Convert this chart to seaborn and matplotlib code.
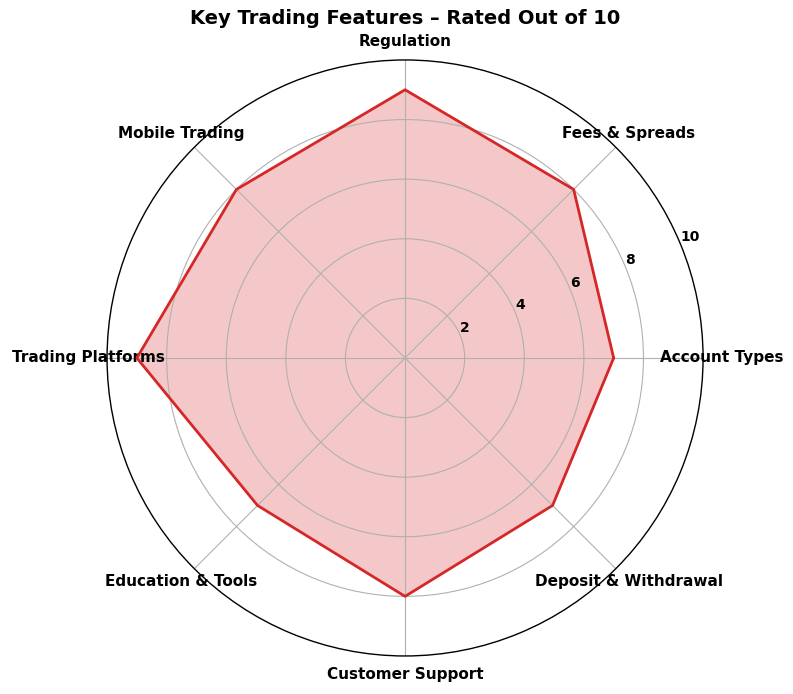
import numpy as np
import pandas as pd
import matplotlib
matplotlib.use("Agg")
import matplotlib.pyplot as plt
import seaborn as sns

categories = ["Account Types", "Fees & Spreads", "Regulation", "Mobile Trading",
              "Trading Platforms", "Education & Tools", "Customer Support",
              "Deposit & Withdrawal"]
scores = [7, 8, 9, 8, 9, 7, 8, 7]
r_ticks = [2, 4, 6, 8, 10]
r_tick_labels = ["2", "4", "6", "8", "10"]

sns.set_style("white")
plt.rcParams['font.family'] = ['DejaVu Sans']
plt.rcParams['text.color'] = 'black'
plt.rcParams['xtick.color'] = 'black'
plt.rcParams['ytick.color'] = 'black'

n = len(categories)
angles = np.linspace(0, 2 * np.pi, n, endpoint=False)
df = pd.DataFrame({
    "angle": np.append(angles, 2 * np.pi),
    "score": scores + [scores[0]],
})

fig = plt.figure(figsize=(7.93, 6.94), dpi=100)
ax = fig.add_axes([0.135, 0.0548, 0.7516, 0.8588], projection="polar")

ax.fill(df["angle"], df["score"], color="#d62728", alpha=0.25, zorder=2)
sns.lineplot(data=df, x="angle", y="score", sort=False, color="#d62728",
             linewidth=2, ax=ax, zorder=3)

ax.set_axisbelow(False)
ax.set_ylim(0, 10)
ax.set_yticks(r_ticks)
ax.set_yticklabels(r_tick_labels, fontsize=10, fontweight="bold", color="black")
ax.set_rlabel_position(22.5)
ax.set_xticks(angles)
ax.set_xticklabels(categories, fontsize=11, fontweight="bold", color="black")
ax.tick_params(axis="x", pad=3)
ax.grid(True, color="#b0b0b0", linewidth=0.8, zorder=2.5)
ax.yaxis.get_gridlines()[-1].set_visible(False)
ax.spines["polar"].set_color("black")
ax.spines["polar"].set_linewidth(1.0)
ax.spines["polar"].set_zorder(5)
ax.set_xlabel("")
ax.set_ylabel("")

fig.text(0.5107, 1 - 18 / 694, "Key Trading Features \u2013 Rated Out of 10",
         ha="center", va="center", fontsize=14, fontweight="bold", color="black")

fig.savefig("out.png", dpi=100)
